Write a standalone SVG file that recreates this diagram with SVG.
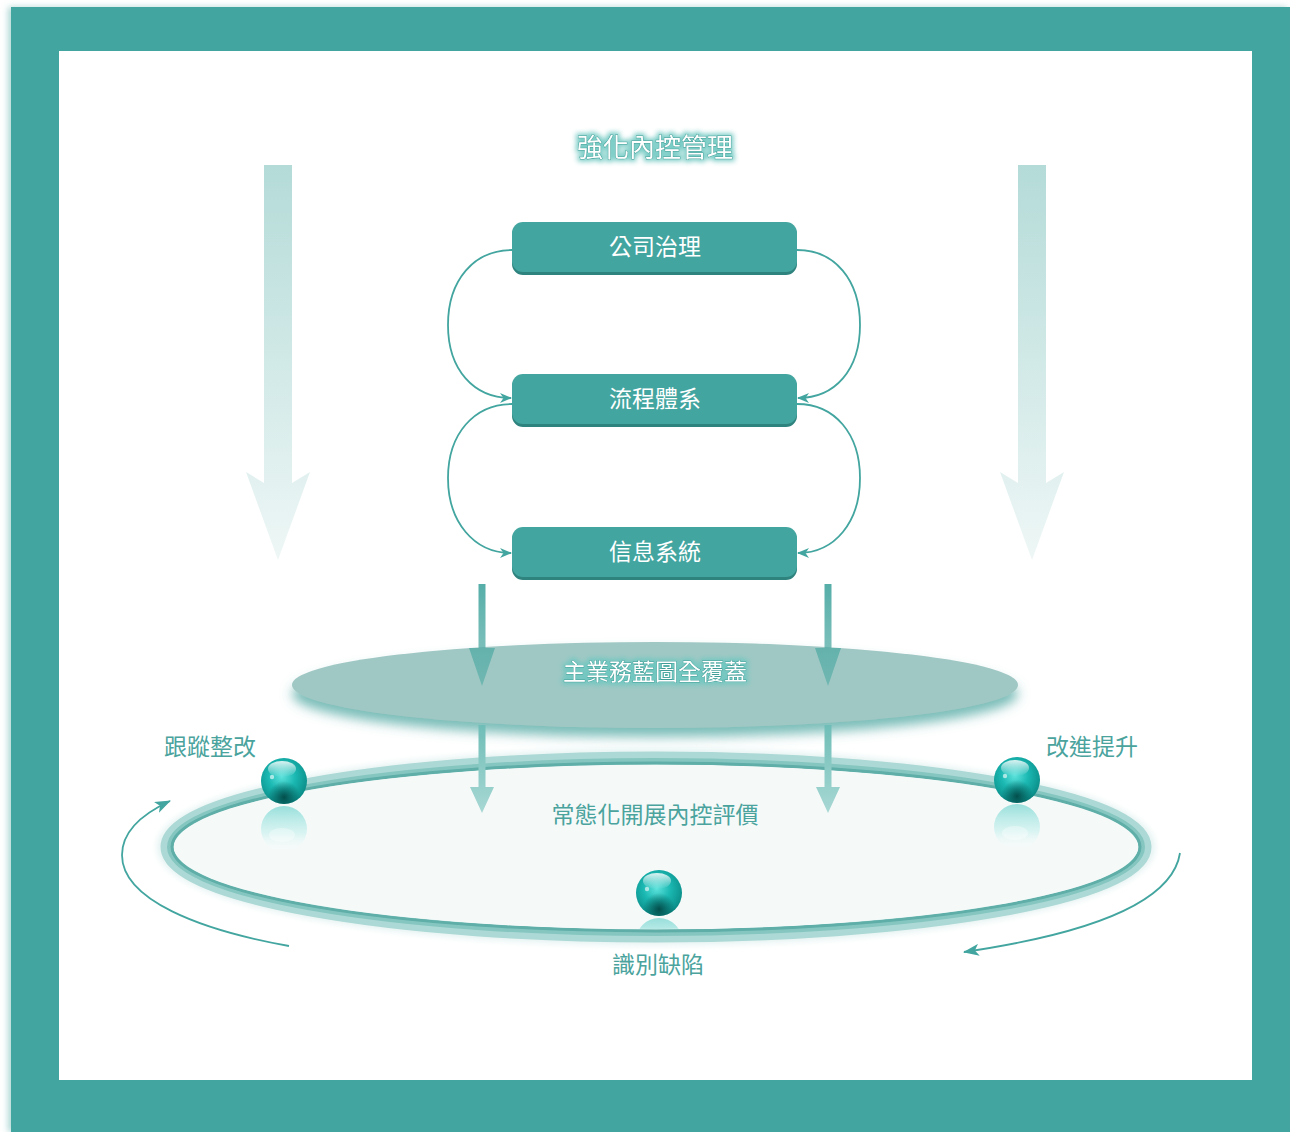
<svg xmlns="http://www.w3.org/2000/svg" width="1290" height="1132" viewBox="0 0 1290 1132">
<defs>
<style>
.cjk{font-family:"Noto Sans CJK TC","Noto Sans CJK SC",sans-serif;}
.boxtxt{font-size:23px;fill:#ffffff;text-anchor:middle;}
.lbl{font-size:23px;fill:#4aa39d;text-anchor:middle;}
.glowtxt{fill:#ffffff;stroke:#3f9c96;stroke-width:0.9px;text-anchor:middle;paint-order:stroke;}
.conn{fill:none;stroke:#43a59f;stroke-width:1.8;}
.box{fill:#43a59f;}
.boxbase{fill:#2f837e;}
</style>
<filter id="frameShadow" x="-5%" y="-5%" width="110%" height="110%">
<feDropShadow dx="-3" dy="0" stdDeviation="3" flood-color="#5fb0aa" flood-opacity="0.5"/>
</filter>
<filter id="txtGlow" x="-20%" y="-50%" width="140%" height="200%">
<feMorphology in="SourceAlpha" operator="dilate" radius="1.5" result="d"/>
<feGaussianBlur in="d" stdDeviation="2.5" result="b"/>
<feFlood flood-color="#6cc7c0" flood-opacity="0.9"/>
<feComposite in2="b" operator="in" result="g"/>
<feMerge><feMergeNode in="g"/><feMergeNode in="SourceGraphic"/></feMerge>
</filter>
<filter id="ellShadow" x="-10%" y="-30%" width="120%" height="180%">
<feGaussianBlur in="SourceAlpha" stdDeviation="6"/>
<feOffset dx="0" dy="9" result="o"/>
<feFlood flood-color="#4fa7a1" flood-opacity="0.75"/>
<feComposite in2="o" operator="in" result="s"/>
<feMerge><feMergeNode in="s"/><feMergeNode in="SourceGraphic"/></feMerge>
</filter>
<filter id="blur2" x="-5%" y="-20%" width="110%" height="140%"><feGaussianBlur stdDeviation="3"/></filter>
<filter id="blur1" x="-5%" y="-20%" width="110%" height="140%"><feGaussianBlur stdDeviation="1.5"/></filter>
<filter id="blur05" x="-5%" y="-20%" width="110%" height="140%"><feGaussianBlur stdDeviation="0.6"/></filter>
<linearGradient id="bigArrow" x1="0" y1="0" x2="0" y2="1">
<stop offset="0" stop-color="#b4dbd8"/>
<stop offset="1" stop-color="#eef7f6"/>
</linearGradient>
<linearGradient id="arrowUp" x1="0" y1="0" x2="0" y2="1">
<stop offset="0" stop-color="#43a59f"/>
<stop offset="1" stop-color="#5aaea8" stop-opacity="0.75"/>
</linearGradient>
<linearGradient id="arrowLow" x1="0" y1="0" x2="0" y2="1">
<stop offset="0" stop-color="#6fbdb7"/>
<stop offset="1" stop-color="#a8d8d4"/>
</linearGradient>
<radialGradient id="sphere" cx="0.45" cy="0.4" r="0.65">
<stop offset="0" stop-color="#5ee2dc"/>
<stop offset="0.45" stop-color="#1bb8b2"/>
<stop offset="0.85" stop-color="#0d948f"/>
<stop offset="1" stop-color="#0a7e7a"/>
</radialGradient>
<radialGradient id="sphereDark" cx="0.5" cy="0.85" r="0.35">
<stop offset="0" stop-color="#00403e" stop-opacity="0.85"/>
<stop offset="1" stop-color="#00403e" stop-opacity="0"/>
</radialGradient>
<linearGradient id="sphereHi" x1="0" y1="0" x2="0" y2="1">
<stop offset="0" stop-color="#ffffff" stop-opacity="0.85"/>
<stop offset="1" stop-color="#ffffff" stop-opacity="0"/>
</linearGradient>
<linearGradient id="refl" x1="0" y1="0" x2="0" y2="1">
<stop offset="0" stop-color="#7fd8d3" stop-opacity="0.8"/>
<stop offset="0.6" stop-color="#bdeeeb" stop-opacity="0.5"/>
<stop offset="1" stop-color="#ffffff" stop-opacity="0"/>
</linearGradient>
<marker id="ah" viewBox="0 0 12 10" refX="11" refY="5" markerWidth="12" markerHeight="10" markerUnits="userSpaceOnUse" orient="auto">
<path d="M0,0 L12,5 L0,10 L3.5,5 Z" fill="#43a59f"/>
</marker>
<marker id="ah2" viewBox="0 0 16 12" refX="15" refY="6" markerWidth="16" markerHeight="12" markerUnits="userSpaceOnUse" orient="auto">
<path d="M0,0 L16,6 L0,12 L4,6 Z" fill="#43a59f"/>
</marker>
<clipPath id="innerClip"><ellipse cx="656" cy="847" rx="482" ry="82"/></clipPath>
<g id="ball">
<circle r="23" fill="url(#sphere)"/>
<circle r="23" fill="url(#sphereDark)"/>
<ellipse cx="-2" cy="-12" rx="14" ry="8" fill="url(#sphereHi)"/>
<circle cx="-12" cy="-4" r="2.2" fill="#ffffff" opacity="0.6"/>
</g>
<g id="ballRefl">
<circle r="23" fill="url(#refl)"/>
<ellipse cx="-2" cy="6" rx="13" ry="7" fill="#ffffff" opacity="0.35"/>
</g>
</defs>

<!-- frame -->
<rect x="11" y="7" width="1279" height="1125" fill="#43a59f" filter="url(#frameShadow)"/>
<rect x="59" y="51" width="1193" height="1029" fill="#ffffff"/>

<!-- big side arrows -->
<polygon points="264,165 292,165 292,483 310,472 278,560 246,472 264,483" fill="url(#bigArrow)"/>
<polygon points="1018,165 1046,165 1046,483 1064,472 1032,560 1000,472 1018,483" fill="url(#bigArrow)"/>

<!-- title -->
<text class="cjk glowtxt" x="655" y="157" font-size="26" filter="url(#txtGlow)">強化內控管理</text>

<!-- ring ellipse -->
<g id="ring">
<ellipse cx="656" cy="847" rx="494" ry="93" fill="none" stroke="#e3f2f1" stroke-width="10" filter="url(#blur2)"/>
<ellipse cx="656" cy="847" rx="489" ry="89" fill="#f5faf9" stroke="#acd9d5" stroke-width="13" filter="url(#blur05)"/>
<ellipse cx="656" cy="847" rx="486" ry="86" fill="none" stroke="#86c6c1" stroke-width="6" filter="url(#blur05)"/>
<ellipse cx="656" cy="847" rx="484" ry="84" fill="none" stroke="#5eaea8" stroke-width="3" filter="url(#blur05)"/>
<ellipse cx="656" cy="847" rx="482" ry="82" fill="#f5faf9"/>
</g>

<!-- upper ellipse -->
<g id="blueprint">
<ellipse cx="655" cy="685" rx="363" ry="43" fill="#9fc8c4" filter="url(#ellShadow)"/>
</g>

<!-- connectors -->
<g id="connectors">
<path class="conn" d="M512,250 C474,250 448,280 448,325 C448,370 474,398 511,398" marker-end="url(#ah)"/>
<path class="conn" d="M797,250 C835,250 860,280 860,325 C860,370 835,398 798,398" marker-end="url(#ah)"/>
<path class="conn" d="M512,404 C474,404 448,434 448,478 C448,522 474,553 511,553" marker-end="url(#ah)"/>
<path class="conn" d="M797,404 C835,404 860,434 860,478 C860,522 835,553 798,553" marker-end="url(#ah)"/>
<polygon points="478.5,584 485.5,584 485.5,648 495,648 482,686 469,648 478.5,648" fill="url(#arrowUp)" opacity="0.9"/>
<polygon points="824.5,584 831.5,584 831.5,648 841,648 828,686 815,648 824.5,648" fill="url(#arrowUp)" opacity="0.9"/>
<polygon points="478.5,725 485.5,725 485.5,787 494,787 482,813 470,787 478.5,787" fill="url(#arrowLow)"/>
<polygon points="824.5,725 831.5,725 831.5,787 840,787 828,813 816,787 824.5,787" fill="url(#arrowLow)"/>
<path class="conn" stroke-width="2.5" d="M289,946 C200,930 122,900 122,855 C122,832 140,815 170,801" marker-end="url(#ah2)"/>
<path class="conn" stroke-width="2.5" d="M1180,853 C1172,905 1080,935 964,952" marker-end="url(#ah2)"/>
</g>

<text class="cjk glowtxt" x="655" y="680" font-size="23" filter="url(#txtGlow)">主業務藍圖全覆蓋</text>

<!-- boxes -->
<g id="box1">
<rect class="boxbase" x="512" y="224" width="285" height="51" rx="11"/>
<rect class="box" x="512" y="222" width="285" height="50" rx="11"/>
<text class="cjk boxtxt" x="655" y="255">公司治理</text>
</g>
<g id="box2">
<rect class="boxbase" x="512" y="376" width="285" height="51" rx="11"/>
<rect class="box" x="512" y="374" width="285" height="50" rx="11"/>
<text class="cjk boxtxt" x="655" y="407">流程體系</text>
</g>
<g id="box3">
<rect class="boxbase" x="512" y="529" width="285" height="51" rx="11"/>
<rect class="box" x="512" y="527" width="285" height="50" rx="11"/>
<text class="cjk boxtxt" x="655" y="560">信息系統</text>
</g>

<!-- spheres -->
<g id="sphereLeft">
<use href="#ballRefl" x="284" y="829"/>
<use href="#ball" x="284" y="781"/>
</g>
<g id="sphereRight">
<use href="#ballRefl" x="1017" y="827"/>
<use href="#ball" x="1017" y="780"/>
</g>
<g id="sphereBottom">
<g clip-path="url(#innerClip)"><use href="#ballRefl" x="659" y="941"/></g>
<use href="#ball" x="659" y="893"/>
</g>

<!-- labels -->
<g id="labels">
<text class="cjk lbl" x="655" y="823">常態化開展內控評價</text>
<text class="cjk lbl" x="210" y="755">跟蹤整改</text>
<text class="cjk lbl" x="1092" y="755">改進提升</text>
<text class="cjk lbl" x="658" y="973">識別缺陷</text>
</g>
</svg>
